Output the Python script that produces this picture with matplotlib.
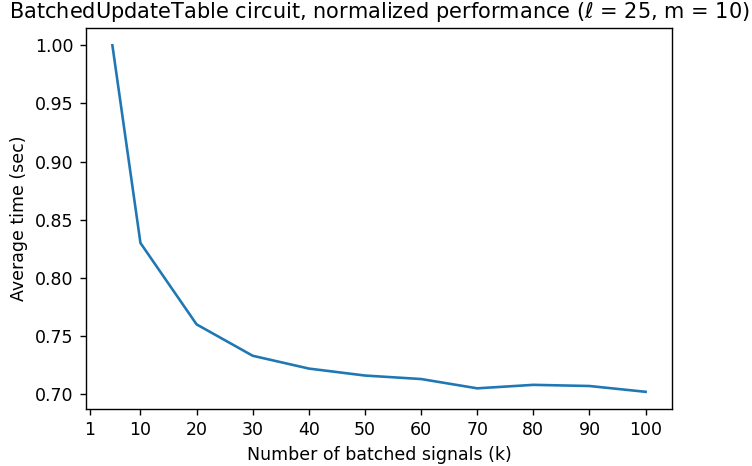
import matplotlib
matplotlib.use("Agg")
import matplotlib.pyplot as plt

k = [5, 10, 20, 30, 40, 50, 60, 70, 80, 90, 100]
avg_time = [1.000, 0.830, 0.760, 0.733, 0.722, 0.716, 0.713, 0.705, 0.708, 0.707, 0.702]
xticks = [1, 10, 20, 30, 40, 50, 60, 70, 80, 90, 100]

s = 1.25
plt.rcParams.update({
    "font.size": 10 * s,
    "axes.titlesize": 12 * s,
    "axes.linewidth": 0.8 * s,
    "xtick.major.size": 3.5 * s,
    "ytick.major.size": 3.5 * s,
    "xtick.major.width": 0.8 * s,
    "ytick.major.width": 0.8 * s,
    "xtick.major.pad": 3.5 * s,
    "ytick.major.pad": 3.5 * s,
    "axes.labelpad": 4 * s,
    "axes.titlepad": 6 * s,
})

fig = plt.figure(figsize=(7.52, 4.66), dpi=100)
ax = fig.add_axes([0.114, 0.122, 0.780, 0.818])
ax.plot(k, avg_time, color="#1f77b4", linewidth=1.5 * s)
ax.set_xticks(xticks)
ax.set_xlabel("Number of batched signals (k)")
ax.set_ylabel("Average time (sec)")
ax.set_title("BatchedUpdateTable circuit, normalized performance ($\\ell$ = 25, m = 10)")
ax.yaxis.set_major_formatter(matplotlib.ticker.FormatStrFormatter("%.2f"))
fig.savefig("out.png", dpi=100)
